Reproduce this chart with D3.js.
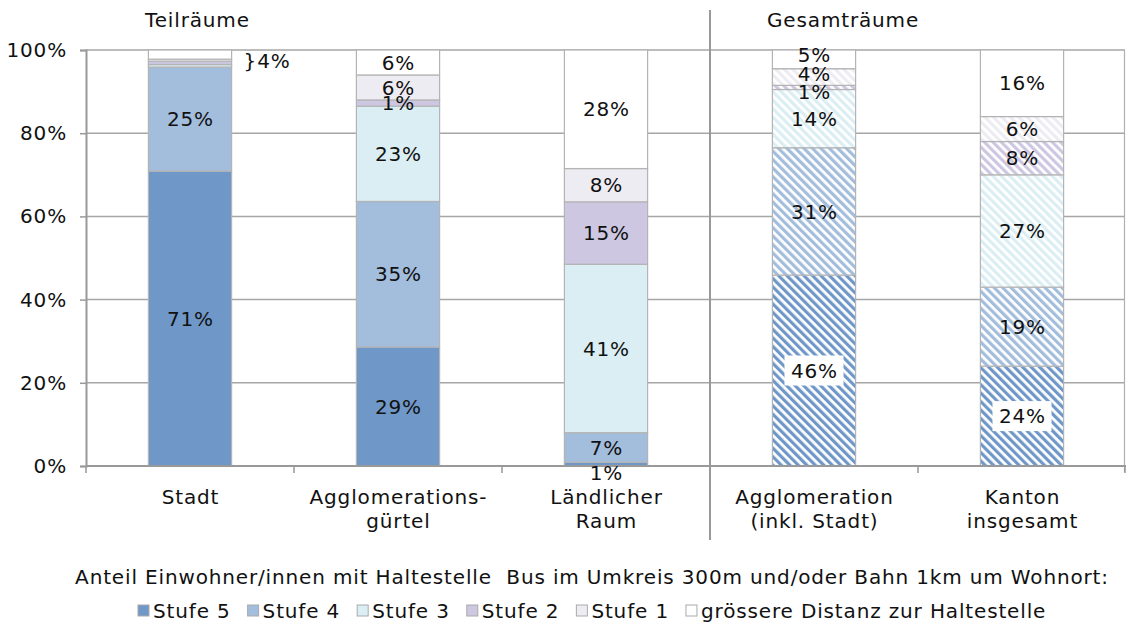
<!DOCTYPE html>
<html><head><meta charset="utf-8">
<script src="https://cdn.jsdelivr.net/npm/d3@7"></script>
<style>
html,body{margin:0;padding:0;background:#fff;}
svg{display:block;font-family:"DejaVu Sans",Verdana,sans-serif;letter-spacing:0.85px;}
</style></head>
<body>
<svg id="chart" width="1126" height="623"></svg>
<script>
// ---- data ----
const categories = ["Stadt", "Agglomerationsgürtel", "Ländlicher Raum", "Agglomeration (inkl. Stadt)", "Kanton insgesamt"];
const categoryLines = [["Stadt"], ["Agglomerations-", "gürtel"], ["Ländlicher", "Raum"], ["Agglomeration", "(inkl. Stadt)"], ["Kanton", "insgesamt"]];
const patterned = [false, false, false, true, true];
const seriesNames = ["Stufe 5", "Stufe 4", "Stufe 3", "Stufe 2", "Stufe 1", "grössere Distanz zur Haltestelle"];
const stufe5 = [70.9, 28.6, 0.9, 45.9, 24.0];
const stufe4 = [25.0, 35.0, 7.1, 30.6, 19.0];
const stufe3 = [0.6, 22.9, 40.5, 14.0, 27.0];
const stufe2 = [0.8, 1.5, 15.0, 1.0, 8.0];
const stufe1 = [0.5, 6.0, 8.0, 4.0, 6.0];
const distanz = [2.2, 6.0, 28.5, 4.5, 16.0];
const labels5 = ["71%", "29%", "1%", "46%", "24%"];
const labels4 = ["25%", "35%", "7%", "31%", "19%"];
const labels3 = ["", "23%", "41%", "14%", "27%"];
const labels2 = ["", "1%", "15%", "1%", "8%"];
const labels1 = ["", "6%", "8%", "4%", "6%"];
const labelsD = ["", "6%", "28%", "5%", "16%"];
const stadtSmallLabel = "}4%";
const yTicks = [0, 20, 40, 60, 80, 100];
const groupTitles = ["Teilräume", "Gesamträume"];
const axisTitle = "Anteil Einwohner/innen mit Haltestelle\u00a0\u00a0Bus im Umkreis 300m und/oder Bahn 1km um Wohnort:";

// ---- styles ----
const colors = ["#6f98c8", "#a3bddc", "#daeef3", "#cdc7e1", "#eeecf3", "#ffffff"];
const FS = 20;
const values = [stufe5, stufe4, stufe3, stufe2, stufe1, distanz];
const labels = [labels5, labels4, labels3, labels2, labels1, labelsD];
// label vertical nudges [series-category] in px
const nudge = {"0-2": 9, "5-3": -5, "4-3": -3, "3-3": 4};
const boxed = {"0-3": true, "0-4": true};

const svg = d3.select("#chart");
const x0 = 86, x1 = 1126, yTop = 50, yBot = 466;

const x = d3.scaleBand().domain(categories).range([x0, x1]).paddingInner(0.6).paddingOuter(0.3);
const y = d3.scaleLinear().domain([0, 100]).range([yBot, yTop]);

// patterns
const defs = svg.append("defs");
colors.forEach((c, i) => {
  const p = defs.append("pattern").attr("id", "pat" + i).attr("patternUnits", "userSpaceOnUse")
    .attr("width", 6).attr("height", 6).attr("patternTransform", "rotate(-45)");
  p.append("rect").attr("width", 6).attr("height", 6).attr("fill", "#fff");
  p.append("rect").attr("width", 3.2).attr("height", 6).attr("fill", c);
});

// gridlines
svg.append("g").selectAll("line").data(yTicks).join("line")
  .attr("x1", x0).attr("x2", x1 - 1).attr("y1", d => y(d)).attr("y2", d => y(d))
  .attr("stroke", "#a6a6a6").attr("stroke-width", 1.5);

// right border
svg.append("line").attr("x1", x1 - 1.5).attr("x2", x1 - 1.5).attr("y1", yTop).attr("y2", yBot + 6)
  .attr("stroke", "#b0b0b0").attr("stroke-width", 1.2);

// y axis
const yAxis = d3.axisLeft(y).tickValues(yTicks).tickFormat(d => d + "%").tickSize(6).tickPadding(13);
const ga = svg.append("g").attr("transform", `translate(${x0},0)`).call(yAxis);
ga.select(".domain").attr("stroke", "#999").attr("stroke-width", 2);
ga.selectAll(".tick line").attr("stroke", "#999").attr("stroke-width", 1.5);
ga.selectAll(".tick text").attr("font-size", FS).attr("fill", "#111").attr("font-family", "DejaVu Sans");

// stacked bars
const stackData = categories.map((c, ci) => {
  let acc = 0;
  return values.map((arr, si) => { const s = {ci, si, y0: acc, y1: acc + arr[ci], cat: c}; acc += arr[ci]; return s; });
}).flat();

svg.append("g").selectAll("rect").data(stackData).join("rect")
  .attr("x", d => x(d.cat)).attr("width", x.bandwidth())
  .attr("y", d => y(d.y1)).attr("height", d => y(d.y0) - y(d.y1))
  .attr("fill", d => patterned[d.ci] ? `url(#pat${d.si})` : colors[d.si])
  .attr("stroke", "#b4b4b4").attr("stroke-width", 1.2);

// x axis
svg.append("line").attr("x1", x0).attr("x2", x1).attr("y1", yBot).attr("y2", yBot)
  .attr("stroke", "#999").attr("stroke-width", 2);
const bounds = categories.map((c, i) => x0 + i * x.step()).concat([x1 - 1]);
svg.append("g").selectAll("line").data(bounds).join("line")
  .attr("x1", d => d).attr("x2", d => d).attr("y1", yBot).attr("y2", yBot + 7)
  .attr("stroke", "#999").attr("stroke-width", 1.5);

// value labels
const lab = svg.append("g").attr("font-size", FS).attr("fill", "#111").attr("text-anchor", "middle");
stackData.forEach(d => {
  const t = labels[d.si][d.ci];
  if (!t) return;
  const key = d.si + "-" + d.ci;
  const cx = x(d.cat) + x.bandwidth() / 2;
  const cy = (y(d.y0) + y(d.y1)) / 2 + (nudge[key] || 0);
  const box = boxed[key] ? lab.append("rect") : null;
  const tx = lab.append("text").attr("x", cx + 0.45).attr("y", cy).attr("dy", "0.36em").text(t);
  if (box) {
    const bw = tx.node().getComputedTextLength() + 12;
    box.attr("x", cx - bw / 2).attr("y", cy - 15).attr("width", bw).attr("height", 30).attr("fill", "#fff");
  }
});
// Stadt small combined label
lab.append("text").attr("x", x(categories[0]) + x.bandwidth() + 12).attr("y", y(97.4)).attr("dy", "0.36em")
  .attr("text-anchor", "start").text(stadtSmallLabel);

// category labels
const cl = svg.append("g").attr("font-size", FS).attr("fill", "#111").attr("text-anchor", "middle");
categories.forEach((c, i) => {
  categoryLines[i].forEach((ln, k) => {
    cl.append("text").attr("x", x(c) + x.bandwidth() / 2 + 0.45).attr("y", 497 + k * 24).attr("dy", "0.36em").text(ln);
  });
});

// divider
const divX = x0 + 3 * x.step();
svg.append("line").attr("x1", divX).attr("x2", divX).attr("y1", 10).attr("y2", 540)
  .attr("stroke", "#999").attr("stroke-width", 2);

// group titles
svg.append("text").attr("x", 145).attr("y", 20).attr("dy", "0.36em").attr("font-size", FS).attr("fill", "#111").text(groupTitles[0]);
svg.append("text").attr("x", 767).attr("y", 20).attr("dy", "0.36em").attr("font-size", FS).attr("fill", "#111").text(groupTitles[1]);

// axis title
svg.append("text").attr("x", 592).attr("y", 577).attr("dy", "0.36em").attr("text-anchor", "middle")
  .attr("font-size", FS).attr("fill", "#111").text(axisTitle);

// legend (centered)
const lg = svg.append("g").attr("font-size", FS).attr("fill", "#111");
let lx = 0;
seriesNames.forEach((n, i) => {
  lg.append("rect").attr("x", lx).attr("y", 605).attr("width", 11).attr("height", 11)
    .attr("fill", colors[i]).attr("stroke", "#aaa").attr("stroke-width", 1);
  const t = lg.append("text").attr("x", lx + 15).attr("y", 611).attr("dy", "0.36em").text(n);
  lx += 15 + t.node().getComputedTextLength() + 17;
});
const lw = lx - 17;
lg.attr("transform", `translate(${Math.round(592 - lw / 2)},0)`);
</script>
</body></html>
